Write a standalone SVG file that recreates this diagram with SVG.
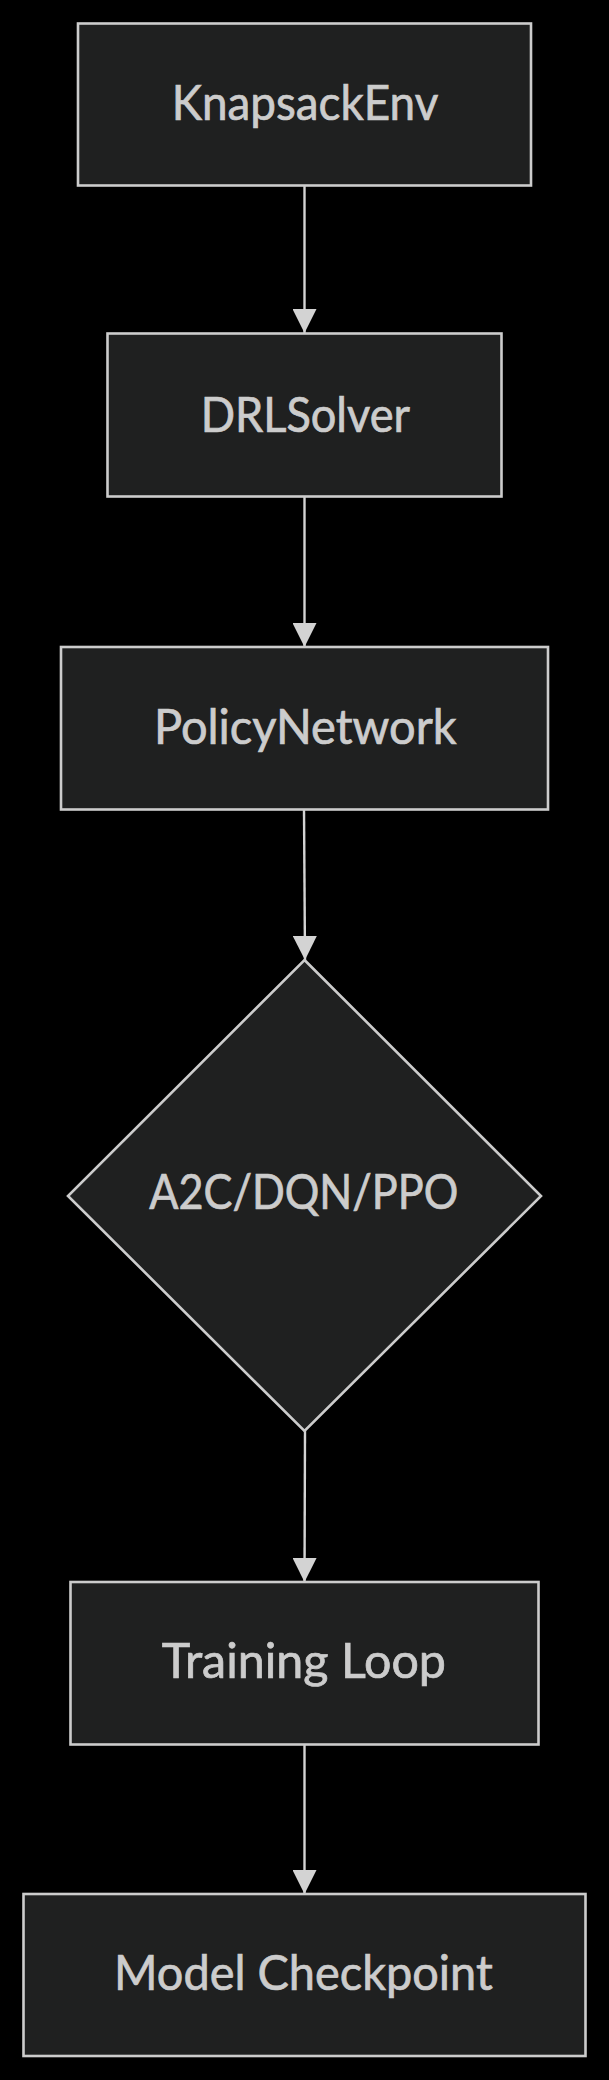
<svg xmlns="http://www.w3.org/2000/svg" width="609" height="2080" viewBox="0 0 609 2080">
<style>
.bg{fill:#000000;}
.node rect,.node polygon{fill:#1f2020;stroke:#cccccc;stroke-width:2.6;}
.node text{fill:#cccccc;stroke:#cccccc;stroke-width:0.7;font-family:"Trebuchet MS","Lato","Open Sans","Liberation Sans",sans-serif;font-size:48px;text-anchor:middle;}
.edge{fill:none;stroke:#d3d3d3;stroke-width:2.4;}
</style>
<defs>
<marker id="arrow" markerUnits="userSpaceOnUse" markerWidth="24" markerHeight="24" viewBox="0 0 24 24" refX="24" refY="12" orient="auto">
<path d="M0,0 L24,12 L0,24 z" fill="#d3d3d3"/>
</marker>
</defs>
<rect class="bg" x="0" y="0" width="609" height="2080"/>
<g id="connectors">
<path class="edge" d="M304.5,185.5 L304.5,333" marker-end="url(#arrow)"/>
<path class="edge" d="M304.5,496.5 L304.5,647" marker-end="url(#arrow)"/>
<path class="edge" d="M304,809.5 L305,960" marker-end="url(#arrow)"/>
<path class="edge" d="M305,1431 L304.5,1582" marker-end="url(#arrow)"/>
<path class="edge" d="M304.5,1744.5 L304.5,1894" marker-end="url(#arrow)"/>
</g>
<g id="node-knapsackenv" class="node">
<rect x="78" y="23.5" width="453" height="162"/>
<text x="305" y="120" textLength="266.6" lengthAdjust="spacingAndGlyphs">KnapsackEnv</text>
</g>
<g id="node-drlsolver" class="node">
<rect x="107.5" y="333.5" width="394" height="163"/>
<text x="305.3" y="431.5" textLength="209.3" lengthAdjust="spacingAndGlyphs">DRLSolver</text>
</g>
<g id="node-policynetwork" class="node">
<rect x="61" y="647" width="487" height="162.5"/>
<text x="305.3" y="743.6" textLength="302.7" lengthAdjust="spacingAndGlyphs">PolicyNetwork</text>
</g>
<g id="node-algorithm" class="node">
<polygon points="304.5,960 541,1196 304.5,1431 68,1196"/>
<text x="303.8" y="1209" textLength="309" lengthAdjust="spacingAndGlyphs">A2C/DQN/PPO</text>
</g>
<g id="node-training-loop" class="node">
<rect x="70.5" y="1582" width="468" height="162.5"/>
<text x="303.8" y="1678.3" textLength="284.3" lengthAdjust="spacingAndGlyphs">Training Loop</text>
</g>
<g id="node-model-checkpoint" class="node">
<rect x="23.5" y="1894" width="562" height="162"/>
<text x="303.4" y="1990" textLength="378.7" lengthAdjust="spacingAndGlyphs">Model Checkpoint</text>
</g>
</svg>
